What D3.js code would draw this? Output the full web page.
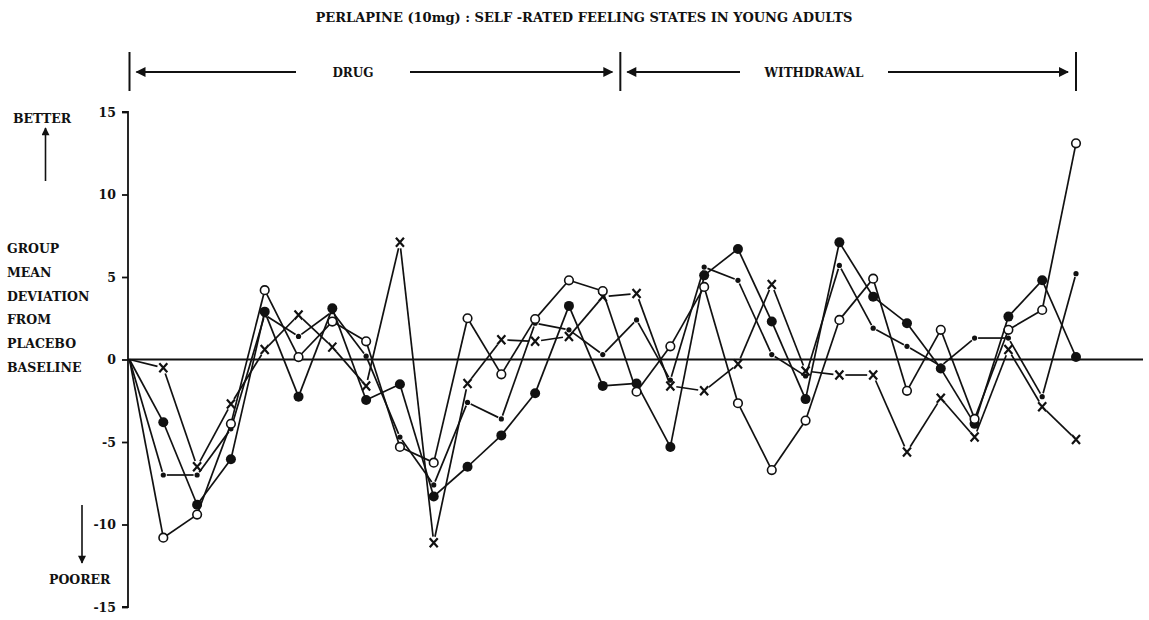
<!DOCTYPE html>
<html>
<head>
<meta charset="utf-8">
<script src="https://cdn.jsdelivr.net/npm/d3@7"></script>
<style>
  html, body { margin: 0; padding: 0; background: #fff; }
  svg text { font-family: "DejaVu Serif", "Liberation Serif", serif; font-weight: bold; fill: #111; }
</style>
</head>
<body>
<svg id="chart" width="1149" height="620"></svg>
<script>
// Occasions (0 = placebo baseline, then successive ratings)
const occasions = d3.range(0, 29);

// Group mean deviation from placebo baseline, one array per group
const openCircles = [0, -10.8, -9.4, -3.9, 4.2, 0.15, 2.3, 1.1, -5.3, -6.25, 2.5, -0.9, 2.45, 4.8, 4.15,
  -1.95, 0.8, 4.4, -2.65, -6.7, -3.7, 2.4, 4.9, -1.9, 1.8, -3.6, 1.8, 3.0, 13.1];
const filledCircles = [0, -3.8, -8.8, -6.05, 2.9, -2.25, 3.1, -2.45, -1.5, -8.3, -6.5, -4.6, -2.05, 3.25, -1.6,
  -1.45, -5.3, 5.1, 6.7, 2.3, -2.4, 7.1, 3.8, 2.2, -0.55, -3.9, 2.6, 4.8, 0.15];
const smallDots = [0, -7.0, -7.0, -4.2, 2.7, 1.4, 2.9, 0.2, -4.7, -7.6, -2.6, -3.6, 2.2, 1.8, 0.3,
  2.4, -1.25, 5.6, 4.8, 0.3, -1.0, 5.7, 1.9, 0.8, -0.4, 1.3, 1.3, -2.25, 5.2];
const crosses = [0, -0.5, -6.5, -2.7, 0.6, 2.7, 0.75, -1.6, 7.1, -11.1, -1.45, 1.2, 1.1, 1.4, 3.8,
  4.0, -1.6, -1.9, -0.27, 4.55, -0.7, -0.94, -0.94, -5.6, -2.35, -4.7, 0.6, -2.86, -4.85];

const yTicks = [15, 10, 5, 0, -5, -10, -15];
const phaseLabels = ["DRUG", "WITHDRAWAL"];
const phaseBounds = [0, 14.52, 28];

const sideLabels = ["GROUP", "MEAN", "DEVIATION", "FROM", "PLACEBO", "BASELINE"];
const titleText = "PERLAPINE (10mg) : SELF -RATED FEELING STATES IN YOUNG ADULTS";

const svg = d3.select("#chart");
const x = d3.scaleLinear().domain([0, 28]).range([129.5, 1076]);
const y = d3.scaleLinear().domain([-15, 15]).range([607, 112]);
const axisX = 128;

// Title
svg.append("text").attr("x", 584).attr("y", 22).attr("text-anchor", "middle")
  .style("font-size", "13px").text(titleText);

// Phase brackets with arrows
const defs = svg.append("defs");
defs.append("marker").attr("id", "head").attr("viewBox", "0 0 10 10")
  .attr("refX", 9).attr("refY", 5).attr("markerWidth", 5.5).attr("markerHeight", 5)
  .attr("orient", "auto-start-reverse").attr("markerUnits", "strokeWidth")
  .append("path").attr("d", "M0,0 L10,5 L0,10 Z").attr("fill", "#111");

const phaseY = 72;
phaseBounds.forEach(b => {
  svg.append("line").attr("x1", x(b)).attr("x2", x(b)).attr("y1", 52).attr("y2", 91)
    .attr("stroke", "#111").attr("stroke-width", 2);
});
const labelGap = [[296, 328, 364, 410], [740, 808, 858, 888]];
phaseLabels.forEach((lab, i) => {
  const x0 = x(phaseBounds[i]) + 7, x1 = x(phaseBounds[i + 1]) - 8;
  const g = labelGap[i];
  const mid = (g[0] + g[3]) / 2;
  svg.append("line").attr("x1", g[0]).attr("x2", x0).attr("y1", phaseY).attr("y2", phaseY)
    .attr("stroke", "#111").attr("stroke-width", 2).attr("marker-end", "url(#head)");
  svg.append("line").attr("x1", g[3]).attr("x2", x1).attr("y1", phaseY).attr("y2", phaseY)
    .attr("stroke", "#111").attr("stroke-width", 2).attr("marker-end", "url(#head)");
  svg.append("text").attr("x", mid).attr("y", phaseY + 4.5).attr("text-anchor", "middle")
    .style("font-size", "12px").text(lab);
});

// Y axis
const yAxis = d3.axisLeft(y).tickValues(yTicks).tickSize(6).tickPadding(6)
  .tickFormat(d => String(d));
const ga = svg.append("g").attr("transform", `translate(${axisX},0)`).call(yAxis);
ga.select(".domain").attr("stroke", "#111").attr("stroke-width", 1.8).attr("d", `M-6,${y(15)}H0V${y(-15)}H-6`);
ga.selectAll(".tick line").attr("stroke", "#111").attr("stroke-width", 1.8);
ga.selectAll(".tick text").style("font-family", "'DejaVu Serif', serif").style("font-weight", "bold")
  .style("font-size", "12.5px").attr("fill", "#111");

// Zero baseline
svg.append("line").attr("x1", axisX).attr("x2", 1143).attr("y1", y(0)).attr("y2", y(0))
  .attr("stroke", "#111").attr("stroke-width", 1.8);

// Side annotations
svg.append("text").attr("x", 13).attr("y", 123).style("font-size", "12.5px").text("BETTER");
svg.append("line").attr("x1", 45.5).attr("x2", 45.5).attr("y1", 181).attr("y2", 128)
  .attr("stroke", "#111").attr("stroke-width", 1.6).attr("marker-end", "url(#head)");
sideLabels.forEach((t, i) => {
  svg.append("text").attr("x", 7).attr("y", [253, 277, 301, 324, 348, 372][i])
    .style("font-size", "12.5px").text(t);
});
svg.append("line").attr("x1", 82).attr("x2", 82).attr("y1", 505).attr("y2", 563)
  .attr("stroke", "#111").attr("stroke-width", 1.6).attr("marker-end", "url(#head)");
svg.append("text").attr("x", 49).attr("y", 584).style("font-size", "12.5px").text("POORER");

// Series lines; gap trims each segment short of its markers
function drawSeries(values, gap) {
  const pts = values.map((v, i) => [x(occasions[i]), y(v)]);
  const g = svg.append("g");
  for (let i = 0; i < pts.length - 1; i++) {
    const [ax, ay] = pts[i], [bx, by] = pts[i + 1];
    const len = Math.hypot(bx - ax, by - ay);
    const ga0 = i === 0 ? 0 : gap;
    if (len <= ga0 + gap) continue;
    const ux = (bx - ax) / len, uy = (by - ay) / len;
    g.append("line")
      .attr("x1", ax + ux * ga0).attr("y1", ay + uy * ga0)
      .attr("x2", bx - ux * gap).attr("y2", by - uy * gap)
      .attr("stroke", "#111").attr("stroke-width", 1.7);
  }
  return pts;
}

const ptsCross = drawSeries(crosses, 6);
const ptsSmall = drawSeries(smallDots, 3.5);
const ptsFilled = drawSeries(filledCircles, 0);
const ptsOpen = drawSeries(openCircles, 0);

// Markers (first point sits at the origin and carries no marker)
svg.append("g").selectAll("path").data(ptsCross.slice(1)).join("path")
  .attr("d", d => `M${d[0] - 4},${d[1] - 4.5}L${d[0] + 4},${d[1] + 4.5}M${d[0] + 4},${d[1] - 4.5}L${d[0] - 4},${d[1] + 4.5}`)
  .attr("stroke", "#111").attr("stroke-width", 2.2).attr("fill", "none");
svg.append("g").selectAll("circle").data(ptsSmall.slice(1)).join("circle")
  .attr("cx", d => d[0]).attr("cy", d => d[1]).attr("r", 2.6).attr("fill", "#111");
svg.append("g").selectAll("circle").data(ptsFilled.slice(1)).join("circle")
  .attr("cx", d => d[0]).attr("cy", d => d[1]).attr("r", 5).attr("fill", "#111");
svg.append("g").selectAll("circle").data(ptsOpen.slice(1)).join("circle")
  .attr("cx", d => d[0]).attr("cy", d => d[1]).attr("r", 4.3)
  .attr("fill", "#fff").attr("stroke", "#111").attr("stroke-width", 1.6);
</script>
</body>
</html>
